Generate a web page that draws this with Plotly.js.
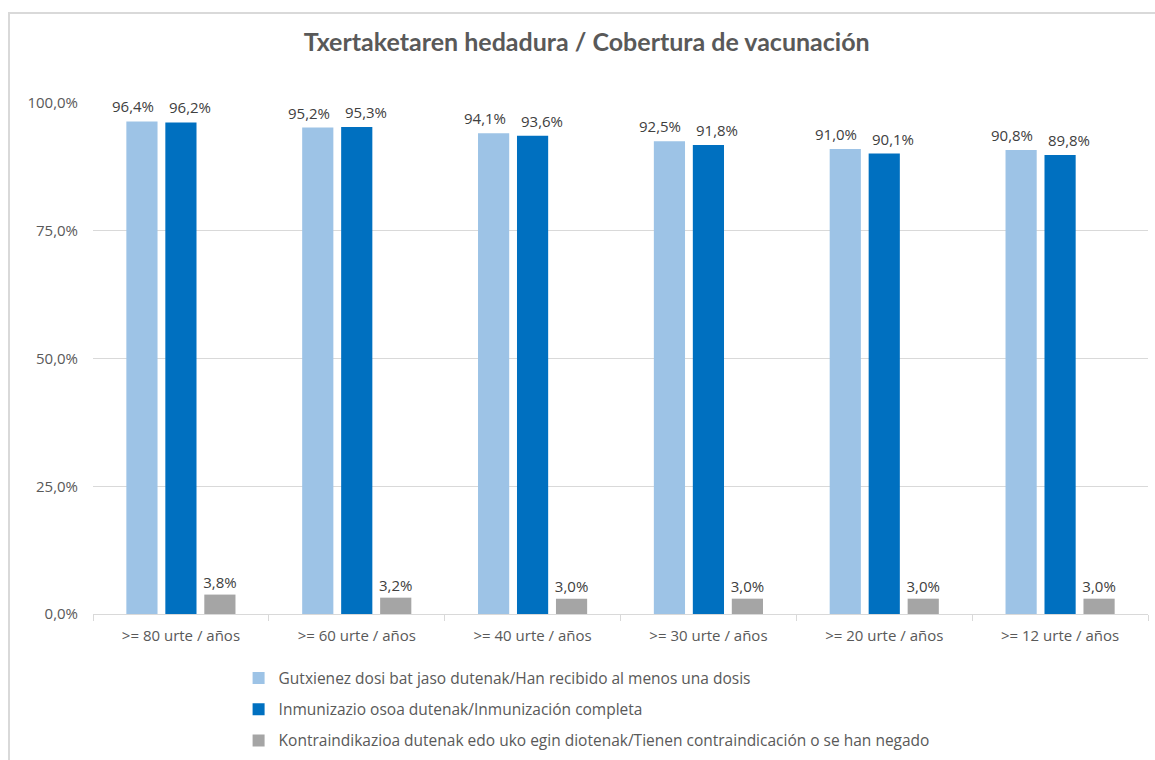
<!DOCTYPE html>
<html>
<head>
<meta charset="utf-8">
<script src="https://cdn.plot.ly/plotly-3.0.1.min.js"></script>
<style>
  html, body { margin: 0; padding: 0; background: #fff; overflow: hidden; }
  #chart { width: 1155px; height: 760px; }
  #frame { position: absolute; left: 8px; top: 12px; width: 1200px; height: 900px;
           border-left: 2px solid #d9d9d9; border-top: 2px solid #d9d9d9; pointer-events: none; }
</style>
</head>
<body>
<div id="chart"></div>
<div id="frame"></div>
<script>
const categories = [">= 80 urte / años", ">= 60 urte / años", ">= 40 urte / años", ">= 30 urte / años", ">= 20 urte / años", ">= 12 urte / años"];
const seriesNames = [
  "Gutxienez dosi bat jaso dutenak/Han recibido al menos una dosis",
  "Inmunizazio osoa dutenak/Inmunización completa",
  "Kontraindikazioa dutenak edo uko egin diotenak/Tienen contraindicación o se han negado"
];
const atLeastOneDose = [96.4, 95.2, 94.1, 92.5, 91.0, 90.8];
const fullyImmunized = [96.2, 95.3, 93.6, 91.8, 90.1, 89.8];
const contraindicated = [3.8, 3.2, 3.0, 3.0, 3.0, 3.0];
const yTicks = [0, 25, 50, 75, 100];
const yTickLabels = ["0,0%", "25,0%", "50,0%", "75,0%", "100,0%"];

const colors = ["#9dc3e6", "#0070c0", "#a5a5a5"];
const values = [atLeastOneDose, fullyImmunized, contraindicated];
const FONT = "Open Sans, Noto Sans, sans-serif";
const LABEL_FONT = { family: FONT, size: 15, color: "#404040" };

const fmt = v => v.toFixed(1).replace(".", ",") + "%";

const traces = values.map((v, i) => ({
  type: "bar",
  x: categories,
  y: v,
  name: seriesNames[i],
  legendgroup: "g" + i,
  marker: { color: colors[i] },
  texttemplate: i === 2 ? "%{y:.1f}%" : "",
  textposition: i === 2 ? "outside" : "none",
  constraintext: "none",
  cliponaxis: false,
  textfont: LABEL_FONT,
  hoverinfo: "skip"
}));

// Labels of the two tall series are spread apart as in the original (style offsets only)
const annotations = [];
const xShifts = [-48, 9];
[atLeastOneDose, fullyImmunized].forEach((arr, s) => {
  arr.forEach((v, k) => {
    annotations.push({
      x: categories[k], y: v, xref: "x", yref: "y",
      text: fmt(v), showarrow: false,
      xanchor: "center", yanchor: "bottom",
      xshift: xShifts[s], yshift: 3,
      font: LABEL_FONT
    });
  });
});

const layout = {
  width: 1155, height: 760,
  margin: { l: 93, r: 7, t: 103, b: 146, autoexpand: false },
  paper_bgcolor: "#ffffff", plot_bgcolor: "#ffffff",
  separators: ",.",
  title: {
    text: "<b>Txertaketaren hedadura / Cobertura de vacunación</b>",
    font: { family: "Lato, Open Sans, sans-serif", size: 25, color: "#595959" },
    x: 0.508, xanchor: "center", xref: "container",
    y: 0.945, yanchor: "middle"
  },
  barmode: "group",
  bargap: 0.335,
  bargroupgap: 0.2,
  xaxis: {
    type: "category",
    showline: true, linecolor: "#d9d9d9", linewidth: 1,
    ticks: "outside", tickson: "boundaries", ticklen: 6, tickcolor: "#d9d9d9",
    tickfont: { family: FONT, size: 15, color: "#595959" },
    ticklabelstandoff: 8,
    showgrid: false, fixedrange: true
  },
  yaxis: {
    range: [0, 100],
    tickmode: "array",
    tickvals: yTicks,
    ticktext: yTickLabels,
    tickfont: { family: FONT, size: 15, color: "#595959" },
    showgrid: true, gridcolor: "#d9d9d9", gridwidth: 1,
    zeroline: false, showline: false, ticks: "",
    ticklabelstandoff: 14,
    fixedrange: true
  },
  annotations: annotations,
  showlegend: true,
  legend: {
    orientation: "v",
    x: 0.138, xanchor: "left",
    y: -0.093, yanchor: "top",
    traceorder: "grouped",
    tracegroupgap: 8,
    font: { family: FONT, size: 15.5, color: "#595959" },
    bgcolor: "rgba(0,0,0,0)"
  }
};

Plotly.newPlot("chart", traces, layout, { displayModeBar: false, staticPlot: true });
</script>
</body>
</html>
